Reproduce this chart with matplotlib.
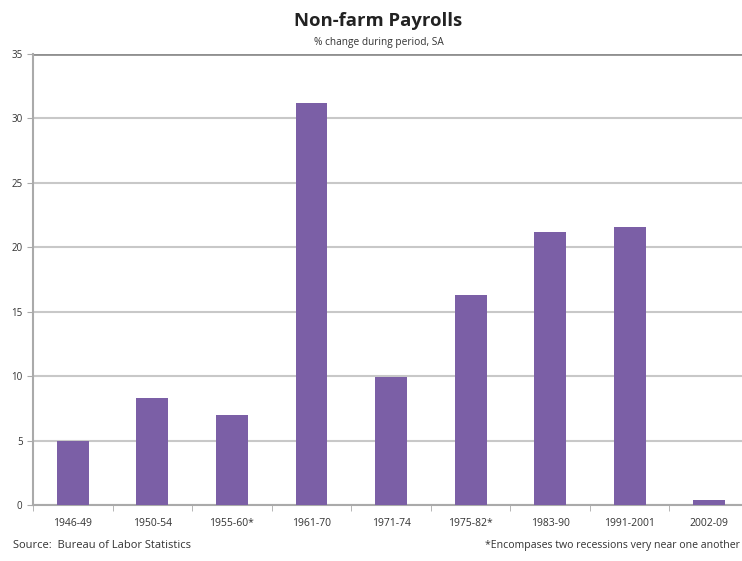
import numpy as np
import matplotlib.pyplot as plt

periods = ["1946-49", "1950-54", "1955-60*", "1961-70", "1971-74",
           "1975-82*", "1983-90", "1991-2001", "2002-09"]
pct_change = [5.0, 8.3, 7.0, 31.2, 9.9, 16.3, 21.2, 21.6, 0.4]

plt.rcParams['font.family'] = ['Open Sans', 'DejaVu Sans']

fig = plt.figure(figsize=(7.42, 5.61), dpi=100)
# the plot area runs a little past the right edge of the image
ax = fig.add_axes([0.0445, 0.0998, 0.965, 0.8039])

x = np.arange(len(periods))
ax.bar(x, pct_change, width=0.4, color="#7b5fa6", zorder=3)

ax.set_xlim(-0.5, len(periods) - 0.5)
ax.set_ylim(0, 35)
ax.set_yticks(np.arange(0, 36, 5))
ax.yaxis.grid(True, color="#c8c8c8", linewidth=1.5, zorder=0)
ax.set_xticks(x)
ax.set_xticklabels(periods)
ax.set_xticks(np.arange(-0.5, len(periods), 1), minor=True)
ax.tick_params(axis="x", which="major", length=0, labelsize=7.5, pad=9, colors="#333333")
ax.tick_params(axis="x", which="minor", length=4, color="#aaaaaa")
ax.tick_params(axis="y", length=4, color="#aaaaaa", labelsize=7, labelcolor="#333333")

for side in ["top", "right"]:
    ax.spines[side].set_visible(False)
ax.spines["left"].set_color("#aaaaaa")
ax.spines["left"].set_linewidth(1.5)
ax.spines["bottom"].set_color("#aaaaaa")
ax.spines["bottom"].set_linewidth(1.5)
ax.axhline(35, color="#909090", linewidth=2, zorder=2)

fig.text(0.51, 0.962, "Non-farm Payrolls", ha="center", va="center",
         fontsize=13.3, fontweight="bold", color="#222222")
fig.text(0.51, 0.925, "% change during period, SA", ha="center", va="center",
         fontsize=7.3, color="#333333")
fig.text(0.017, 0.028, "Source:  Bureau of Labor Statistics", ha="left", va="center",
         fontsize=8, color="#333333")
fig.text(0.997, 0.028, "*Encompases two recessions very near one another", ha="right",
         va="center", fontsize=7.6, color="#333333")

fig.savefig("out.png", dpi=100)
